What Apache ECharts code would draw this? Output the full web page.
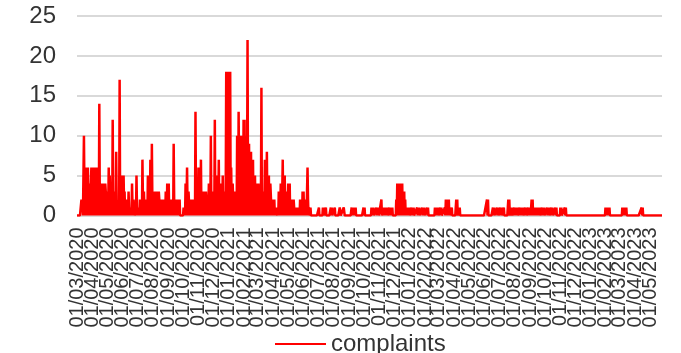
<!DOCTYPE html>
<html><head><meta charset="utf-8">
<script src="https://cdn.jsdelivr.net/npm/echarts@6/dist/echarts.min.js"></script>
<style>html,body{margin:0;padding:0;background:#fff}#c{width:681px;height:353px}</style>
</head><body><div id="c"></div>
<script>
const seriesName = 'complaints';
const yTicks = [0, 5, 10, 15, 20, 25];

// Daily complaint counts, dense period (one value per day of the month)
const mar2020 = [0,0,0,0,0,0,0,0,0,2,1,2,0,0,10,3,6,0,6,2,0,5,6,1,0,4,0,3,4,6,0];
const apr2020 = [2,6,0,4,6,1,6,0,3,6,0,3,1,0,14,2,4,0,4,2,4,0,3,4,1,0,4,3,0,3];
const may2020 = [0,3,1,6,0,5,2,4,0,3,0,12,1,3,2,0,1,0,8,2,0,1,0,1,0,17,1,2,5,0,4];
const jun2020 = [1,0,5,1,3,0,2,2,0,1,2,0,3,1,0,1,0,1,0,4,1,0,2,1,0,0,1,0,5,1];
const jul2020 = [0,1,0,1,0,2,0,1,2,0,7,2,0,3,1,0,2,2,0,1,0,5,2,0,5,0,7,1,0,9,2];
const aug2020 = [0,1,0,1,3,0,2,3,0,3,1,0,3,2,0,1,2,0,1,0,1,2,0,1,2,0,3,1,0,4,1];
const sep2020 = [0,4,0,2,0,1,2,0,2,1,0,9,2,0,1,2,0,1,2,0,2,1,0,2,0,0,0,0,0,0];
const oct2020 = [0,1,0,1,0,4,0,2,6,1,0,3,3,0,1,2,1,0,1,0,2,0,1,2,0,13,2,0,3,1,0];
const nov2020 = [6,1,0,6,2,7,0,3,1,3,0,2,3,1,0,3,2,0,1,0,1,4,0,2,1,10,0,3,1,3];
const dec2020 = [0,3,1,12,0,4,2,5,0,3,1,7,0,4,2,4,0,3,1,5,0,2,3,0,1,3,18,0,18,1,18];
const jan2021 = [0,18,2,18,0,6,1,0,4,4,0,3,1,0,3,1,0,10,4,0,13,5,9,10,0,7,10,0,6,0,12];
const feb2021 = [5,12,0,10,3,0,4,22,2,0,9,1,0,6,8,0,2,5,7,0,3,1,5,0,2,4,0,4];
const mar2021 = [2,4,0,3,1,0,2,16,0,3,3,0,2,1,7,0,4,2,8,0,5,3,5,0,2,4,4,1,0,2,2];
const apr2021 = [0,1,2,0,1,0,1,1,0,1,0,3,0,2,1,4,0,2,3,7,0,4,2,5,0,2,3,3,0,1];
const may2021 = [4,0,2,4,0,1,2,0,1,2,0,2,1,0,1,0,1,0,1,0,1,0,1,0,2,1,0,2,0,3,1];
const jun2021 = [3,0,2,1,0,2,0,0,6,2,0,1,1,0,1,0,0,0,0,0,0,0,0,0,0,0,0,0,0,0];

// Sparse period: [day of month, complaints]; all other days had 0
const jul2021 = [[2,1],[10,1],[12,1],[16,1],[26,1],[28,1]];
const aug2021 = [[3,1],[13,1],[14,1],[21,1],[22,1]];
const sep2021 = [[6,1],[8,1],[10,1],[12,1],[14,1],[30,1]];
const oct2021 = [[2,1],[16,1],[18,1],[20,1],[26,1],[28,1],[30,1]];
const nov2021 = [[5,2],[9,1],[11,1],[13,1],[15,1],[17,1],[21,1],[23,1],[25,1],[27,1]];
const dec2021 = [[5,2],[7,4],[9,4],[10,1],[11,4],[13,4],[15,4],[16,1],[17,4],[19,3],[21,3],[23,2],[25,1],[27,1],[29,1],[31,1]];
const jan2022 = [[5,1],[7,1],[9,1],[16,1],[18,1],[20,1],[26,1],[28,1],[30,1]];
const feb2022 = [[5,1],[7,1],[21,1],[23,1],[25,1],[27,1]];
const mar2022 = [[4,1],[6,1],[13,1],[15,2],[17,2],[18,1],[19,2],[21,2],[23,1],[27,1]];
const apr2022 = [[5,2],[7,2],[12,1]];
const may2022 = [];
const jun2022 = [[6,2],[8,2],[18,1],[20,1],[26,1],[28,1]];
const jul2022 = [[3,1],[5,1],[10,1],[19,2],[21,2],[24,1],[26,1],[31,1]];
const aug2022 = [[2,1],[4,1],[6,1],[11,1],[13,1],[15,1],[17,1],[22,1],[24,1],[28,1],[30,1]];
const sep2022 = [[1,1],[3,1],[4,2],[6,2],[8,1],[10,1],[12,1],[14,1],[16,1],[18,1],[20,1],[25,1],[27,1],[29,1]];
const oct2022 = [[5,1],[7,1],[9,1],[14,1],[16,1],[22,1],[24,1]];
const nov2022 = [[1,1],[3,1],[10,1],[12,1]];
const dec2022 = [];
const jan2023 = [[31,1]];
const feb2023 = [[2,1],[4,1],[6,1],[8,1]];
const mar2023 = [[6,1],[8,1],[10,1],[12,1],[14,1]];
const apr2023 = [[14,1],[16,1]];
const may2023 = [];

const denseMonths = [mar2020,apr2020,may2020,jun2020,jul2020,aug2020,sep2020,oct2020,nov2020,dec2020,jan2021,feb2021,mar2021,apr2021,may2021,jun2021];
const sparseMonths = [jul2021,aug2021,sep2021,oct2021,nov2021,dec2021,jan2022,feb2022,mar2022,apr2022,may2022,jun2022,jul2022,aug2022,sep2022,oct2022,nov2022,dec2022,jan2023,feb2023,mar2023,apr2023,may2023];

function daysIn(y, m) { return new Date(Date.UTC(y, m + 1, 0)).getUTCDate(); }
const values = [];
denseMonths.forEach(a => values.push(...a));
let yy = 2021, mm = 6;
sparseMonths.forEach(pairs => {
  const arr = new Array(daysIn(yy, mm)).fill(0);
  pairs.forEach(p => { arr[p[0] - 1] = p[1]; });
  values.push(...arr);
  mm++; if (mm > 11) { mm = 0; yy++; }
});

const dates = [];
const pad = n => (n < 10 ? '0' : '') + n;
let t = Date.UTC(2020, 2, 1);
const tEnd = Date.UTC(2023, 4, 25);
while (t <= tEnd) {
  const d = new Date(t);
  dates.push(pad(d.getUTCDate()) + '/' + pad(d.getUTCMonth() + 1) + '/' + d.getUTCFullYear());
  t += 86400000;
}
values.length = dates.length;

// month-start labels split over two overlaid axes (alternate months) so none get dropped
function monthIdx(v) { const p = v.split('/'); return (+p[2] - 2020) * 12 + (+p[1]) - 3; }
const FONT = 'Liberation Sans, Arial, sans-serif';
function xAxisDef(parity) {
  return {
    type: 'category', data: dates, boundaryGap: false, gridIndex: 0, position: 'bottom',
    axisLine: {show: false}, axisTick: {show: false}, splitLine: {show: false},
    axisLabel: {
      interval: (i, v) => v.startsWith('01/') && monthIdx(v) % 2 === parity,
      rotate: 90, fontSize: 20, color: '#333333', margin: 12, fontFamily: FONT
    }
  };
}

const chart = echarts.init(document.getElementById('c'), null, {renderer: 'canvas'});
chart.setOption({
  animation: false,
  grid: {left: 77, right: 19, top: 16, bottom: 137.5},
  legend: {
    data: [{name: seriesName, icon: 'rect'}],
    left: 270, top: 327,
    itemWidth: 51, itemHeight: 2,
    textStyle: {fontSize: 24, color: '#333333', fontFamily: FONT}
  },
  xAxis: [xAxisDef(0), xAxisDef(1)],
  yAxis: {
    type: 'value', min: yTicks[0], max: yTicks[yTicks.length - 1], interval: 5,
    axisLine: {show: false}, axisTick: {show: false},
    axisLabel: {fontSize: 24, color: '#333333', margin: 21, fontFamily: FONT},
    splitLine: {lineStyle: {color: '#d9d9d9', width: 2}}
  },
  series: [{
    name: seriesName, type: 'line', data: values, xAxisIndex: 0,
    symbol: 'none', showSymbol: false,
    lineStyle: {color: '#ff0000', width: 2.5},
    itemStyle: {color: '#ff0000'}
  }]
});
</script>
</body></html>
